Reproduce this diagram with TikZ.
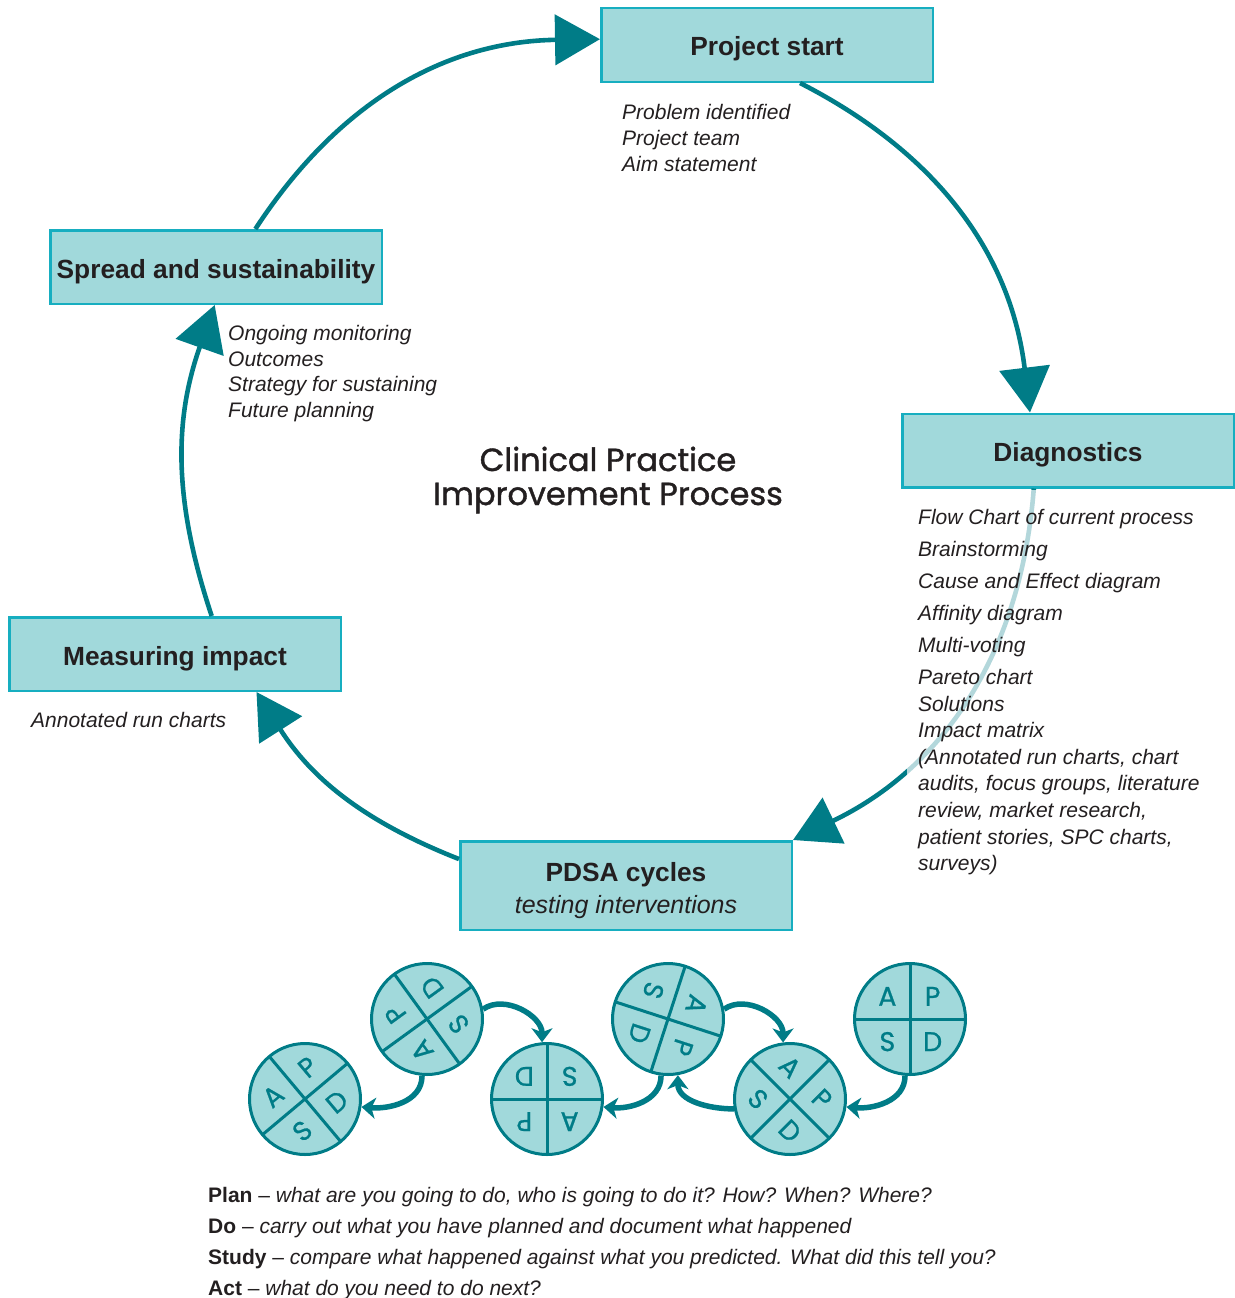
\documentclass[tikz,border=0pt]{standalone}
\usepackage{fontspec}
\setmainfont{Liberation Sans}
\newfontfamily\titlefont{Poppins}[FakeBold=1.2]
\newfontfamily\letterfont{Poppins}[FakeBold=0.8]
\usetikzlibrary{arrows.meta,positioning,calc,shapes}
\definecolor{boxfill}{HTML}{A1D9DB}
\definecolor{boxline}{HTML}{17AEC0}
\definecolor{cpiteal}{HTML}{007C87}
\definecolor{ink}{HTML}{231F20}
\tikzstyle{stage} = [rectangle, draw=boxline, fill=boxfill, line width=2.5pt, minimum width=331.5pt, minimum height=73.5pt, text height=26pt, text depth=4pt, font=\fontsize{26.3}{30}\selectfont\bfseries, text=ink]
\tikzstyle{notes} = [anchor=north west, align=left, inner sep=0pt, font=\fontsize{21}{26}\selectfont\itshape, text=ink]
\tikzstyle{cycle} = [draw=cpiteal, line width=4.6pt, -{Triangle[length=45pt,width=50pt]}]
\tikzstyle{wheel} = [circle, draw=cpiteal, fill=boxfill, line width=3pt, minimum size=111pt, inner sep=0pt]
\tikzstyle{spoke} = [draw=cpiteal, line width=3pt]
\tikzstyle{wletter} = [inner sep=0pt, font=\letterfont\fontsize{27}{27}\selectfont, text=cpiteal]
\tikzstyle{roll} = [draw=cpiteal, line width=5.5pt, -{Stealth[length=14pt,width=21pt,inset=4pt]}]

\begin{document}
\begin{tikzpicture}[x=1pt, y=1pt]
		\useasboundingbox (0,0) rectangle (1234,-1298);

		% the five stages
		\node [stage] (proj) at (767,-45) {Project start};
		\node [stage] (spread) at (216,-267) {Spread and sustainability};
		\node [stage] (diag) at (1068,-450.5) {Diagnostics};
		\node [stage] (meas) at (175,-654) {Measuring impact};
		\node [stage, minimum height=88.5pt, text height=, text depth=, align=center, font=\fontsize{26.3}{30}\selectfont\bfseries] (pdsa) at (626,-885.5) {\rule{0pt}{29pt}PDSA cycles\\[2.5pt]{\fontsize{25}{30}\selectfont\mdseries\itshape testing interventions}};

		\node [align=center, font=\titlefont\fontsize{32}{34}\selectfont, text=ink] (cpi) at (608,-480) {Clinical Practice\\Improvement Process};

		\draw [cycle] (spread.44) to[bend left=28] (proj.178);
		\draw [cycle] (proj.311) to[bend left=28] (diag.135);
		\draw [cycle] (diag.228) to[bend left=30] (pdsa.north east);
		\draw [cycle] (pdsa.171) to[bend left=18] (meas.335);
		\draw [cycle] (meas.46) to[bend left=19] (spread.268);

		\node [notes] (projnotes) at (622,-104) {Problem identified\\Project team\\Aim statement};
		\node [notes, font=\fontsize{21}{25.7}\selectfont\itshape] (spreadnotes) at (228,-325) {Ongoing monitoring\\Outcomes\\Strategy for sustaining\\Future planning};
		\node [notes] (measnotes) at (31,-712) {Annotated run charts};
		\node [notes, inner xsep=11pt, inner ysep=19pt, fill=white, fill opacity=0.7, text opacity=1, font=\fontsize{21}{26.6}\selectfont\itshape] (diagnotes) at (907,-490) {Flow Chart of current process\\[5.4pt]Brainstorming\\[5.4pt]Cause and Effect diagram\\[5.4pt]Affinity diagram\\[5.4pt]Multi-voting\\[5.4pt]Pareto chart\\Solutions\\Impact matrix\\(Annotated run charts, chart\\audits, focus groups, literature\\review, market research,\\patient stories, SPC charts,\\surveys)};

		% rolling PDSA wheels
		\foreach \w/\x/\y/\r in {wA/305/-1099/40, wB/427/-1019/126, wC/547/-1099/180, wD/668/-1019/-108, wE/790/-1099/-45, wF/910/-1019/0} {
			\node [wheel] (\w) at (\x,\y) {};
			\draw [spoke] ($(\w)+(\r:56)$) -- ($(\w)+(\r+180:56)$);
			\draw [spoke] ($(\w)+(\r+90:56)$) -- ($(\w)+(\r+270:56)$);
			\node [wletter, rotate=\r] at ($(\w)+(\r+135:32)$) {A};
			\node [wletter, rotate=\r] at ($(\w)+(\r+45:32)$) {P};
			\node [wletter, rotate=\r] at ($(\w)+(\r-45:32)$) {D};
			\node [wletter, rotate=\r] at ($(\w)+(\r-135:32)$) {S};
		}

		\draw [roll] (wB.10) to[out=35,in=90] (wC.95);
		\draw [roll] (wB.265) to[out=-90,in=-5] (wA.-8);
		\draw [roll] (wD.263) to[out=-90,in=-5] (wC.-8);
		\draw [roll] (wD.10) to[out=35,in=90] (wE.97);
		\draw [roll] (wE.190) to[out=180,in=-90] (wD.-80);
		\draw [roll] (wF.265) to[out=-90,in=-5] (wE.-8);

		\node [notes, font=\fontsize{21}{31}\selectfont] (legend) at (208,-1187) {\textbf{Plan} -- \textit{what are you going to do, who is going to do it? How? When? Where?}\\\textbf{Do} -- \textit{carry out what you have planned and document what happened}\\\textbf{Study} -- \textit{compare what happened against what you predicted. What did this tell you?}\\\textbf{Act} -- \textit{what do you need to do next?}};
		\end{tikzpicture}
\end{document}
